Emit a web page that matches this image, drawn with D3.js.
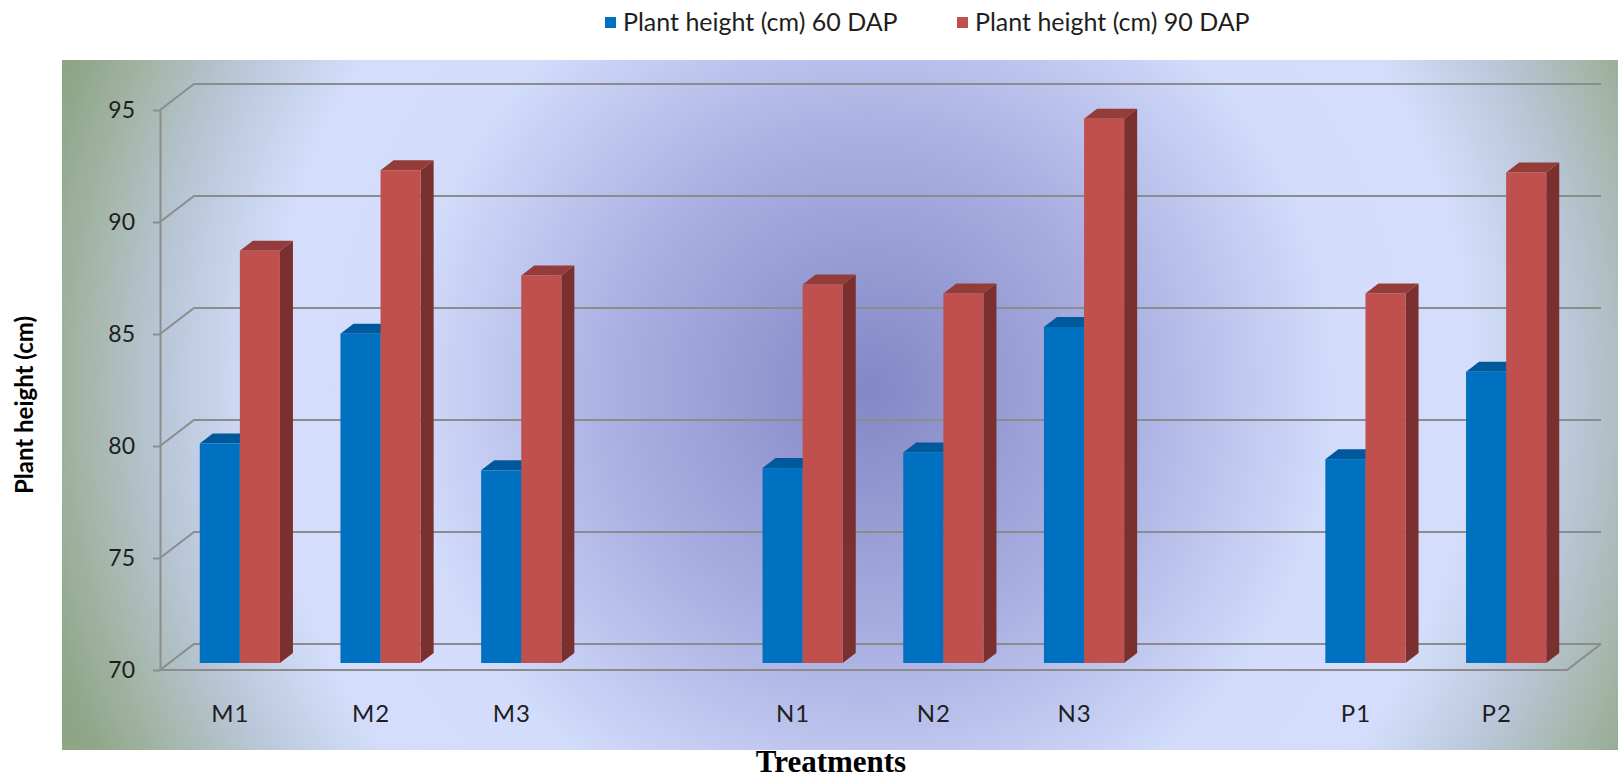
<!DOCTYPE html>
<html>
<head>
<meta charset="utf-8">
<script src="https://cdn.jsdelivr.net/npm/d3@7/dist/d3.min.js"></script>
<style>
  body { margin: 0; background: #fff; }
  svg { display: block; }
</style>
</head>
<body>
<svg width="1618" height="779"></svg>
<script>
// datele graficului
const categories = ["M1", "M2", "M3", "", "N1", "N2", "N3", "", "P1", "P2"];
const dap60 = [79.8, 84.7, 78.6, null, 78.7, 79.4, 85.0, null, 79.1, 83.0];
const dap90 = [88.4, 92.0, 87.3, null, 86.9, 86.5, 94.3, null, 86.5, 91.9];
const seriesNames = ["Plant height (cm) 60 DAP", "Plant height (cm) 90 DAP"];
const yTicks = [70, 75, 80, 85, 90, 95];

let svg = d3.select("svg"),
    width = +svg.attr("width"),
    height = +svg.attr("height");

const colors = {
  front: ["#0070c0", "#c0504d"],
  top:   ["#00599c", "#943c39"],
  side:  ["#004c86", "#7a302e"]
};
const gridColor = "#8c8c8c";

// adancimea "3D": peretele din spate si barele
const floorD = [34, -26];
const barOff = [9.5, -7];
const barD = [13, -10];

// scale
let x = d3.scaleBand()
    .domain(d3.range(categories.length))
    .range([160, 1567])
    .paddingInner(0).paddingOuter(0);

let y = d3.scaleLinear().domain([70, 95]).range([670, 110]);

let xs = d3.scaleBand().domain([0, 1]).range([0, x.bandwidth() * 0.57]);

// fundal cu gradient radial
let defs = svg.append("defs");
let grad = defs.append("radialGradient")
    .attr("id", "bg")
    .attr("gradientUnits", "userSpaceOnUse")
    .attr("cx", 870).attr("cy", 390).attr("r", 860);
[[0, "#8387c5"], [0.3, "#aab0e2"], [0.55, "#d3ddfb"], [0.7, "#d4defc"],
 [0.82, "#bac7d9"], [0.92, "#a3b5a7"], [1, "#8ea586"]].forEach(s => {
  grad.append("stop").attr("offset", s[0]).attr("stop-color", s[1]);
});

svg.append("rect")
    .attr("x", 62).attr("y", 60)
    .attr("width", width - 62).attr("height", 690)
    .attr("fill", "url(#bg)");

// peretele din spate: liniile de grila
let grid = svg.append("g")
    .attr("fill", "none")
    .attr("stroke", gridColor)
    .attr("stroke-width", 2);

grid.selectAll("path.grid")
    .data(yTicks)
    .enter()
    .append("path")
    .attr("class", "grid")
    .attr("d", t => {
      let x0 = x.range()[0], x1 = x.range()[1];
      return "M" + x0 + "," + y(t) +
             "L" + (x0 + floorD[0]) + "," + (y(t) + floorD[1]) +
             "L" + (x1 + floorD[0]) + "," + (y(t) + floorD[1]);
    });

// podeaua
grid.append("path")
    .attr("d", () => {
      let x0 = x.range()[0], x1 = x.range()[1], y0 = y(70);
      return "M" + x0 + "," + y0 + "L" + x1 + "," + y0 +
             "L" + (x1 + floorD[0]) + "," + (y0 + floorD[1]);
    });

// axa Y
let yAxis = svg.append("g")
    .attr("transform", "translate(160,0)")
    .call(d3.axisLeft(y).tickValues(yTicks).tickSize(7).tickSizeOuter(0).tickPadding(18));
yAxis.selectAll("path, line").attr("stroke", gridColor).attr("stroke-width", 2);
yAxis.selectAll("text")
    .attr("font-family", "Lato, sans-serif")
    .attr("font-size", 23)
    .attr("fill", "#1e1e1e");

// barele
let bars = [];
categories.forEach((c, i) => {
  [dap60[i], dap90[i]].forEach((v, s) => {
    if (v == null) return;
    bars.push({ i: i, s: s, v: v });
  });
});

let bw = xs.bandwidth();
let barG = svg.append("g");

let barItem = barG.selectAll("g.bar")
    .data(bars)
    .enter()
    .append("g")
    .attr("class", "bar");

function bx(d) { return x(d.i) + (x.bandwidth() - xs.range()[1]) / 2 + xs(d.s) + barOff[0]; }
function by(v) { return y(v) + barOff[1]; }

// fata laterala
barItem.append("path")
    .attr("fill", d => colors.side[d.s])
    .attr("d", d => {
      let x1 = bx(d) + bw, yt = by(d.v), yb = by(70);
      return "M" + x1 + "," + yt + "L" + (x1 + barD[0]) + "," + (yt + barD[1]) +
             "L" + (x1 + barD[0]) + "," + (yb + barD[1]) + "L" + x1 + "," + yb + "Z";
    });

// fata de sus
barItem.append("path")
    .attr("fill", d => colors.top[d.s])
    .attr("d", d => {
      let x0 = bx(d), yt = by(d.v);
      return "M" + x0 + "," + yt + "L" + (x0 + barD[0]) + "," + (yt + barD[1]) +
             "L" + (x0 + bw + barD[0]) + "," + (yt + barD[1]) + "L" + (x0 + bw) + "," + yt + "Z";
    });

// fata din fata
barItem.append("rect")
    .attr("x", d => bx(d))
    .attr("y", d => by(d.v))
    .attr("width", bw)
    .attr("height", d => by(70) - by(d.v))
    .attr("fill", d => colors.front[d.s]);

// axa X (doar etichetele)
let xAxis = svg.append("g")
    .attr("transform", "translate(0,670)")
    .call(d3.axisBottom(x).tickSize(0).tickFormat(i => categories[i]));
xAxis.select(".domain").remove();
xAxis.selectAll("text")
    .attr("y", 52).attr("dy", 0)
    .attr("font-family", "Lato, sans-serif")
    .attr("font-size", 24)
    .attr("letter-spacing", 1)
    .attr("fill", "#1e1e1e");

// titluri axe
svg.append("text")
    .attr("transform", "translate(33,405) rotate(-90)")
    .attr("text-anchor", "middle")
    .attr("font-family", "Lato, sans-serif")
    .attr("font-weight", "bold")
    .attr("font-size", 24)
    .attr("fill", "#000")
    .text("Plant height (cm)");

svg.append("text")
    .attr("x", 831).attr("y", 772)
    .attr("text-anchor", "middle")
    .attr("font-family", "'Liberation Serif', serif")
    .attr("font-weight", "bold")
    .attr("font-size", 31)
    .attr("fill", "#000")
    .text("Treatments");

// legenda
let legendX = [605, 957];
let legend = svg.append("g")
    .selectAll("g")
    .data(seriesNames)
    .enter()
    .append("g")
    .attr("transform", (d, i) => "translate(" + legendX[i] + ",17)");

legend.append("rect")
    .attr("width", 11).attr("height", 11)
    .attr("fill", (d, i) => colors.front[i]);

legend.append("text")
    .attr("x", 18).attr("y", 14)
    .attr("font-family", "Lato, sans-serif")
    .attr("font-size", 25)
    .attr("fill", "#1e1e1e")
    .text(d => d);
</script>
</body>
</html>
